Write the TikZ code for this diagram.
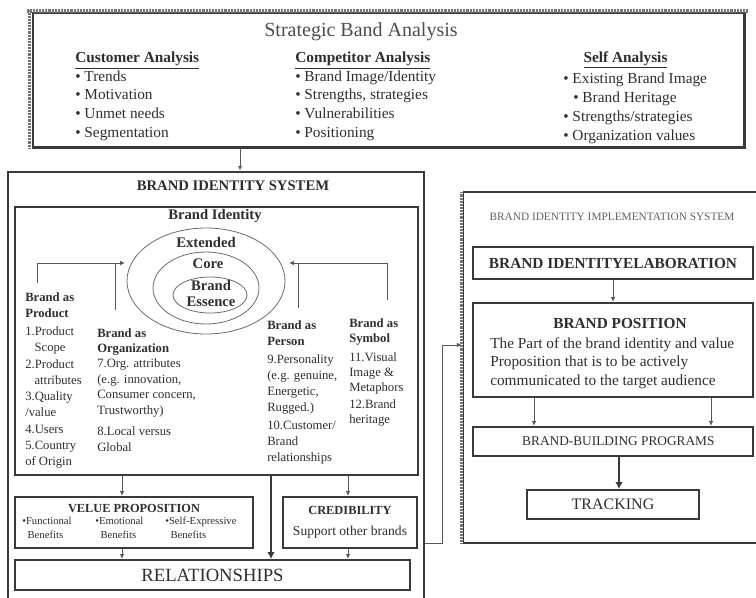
\documentclass[tikz,border=0pt]{standalone}
\usepackage{fontspec}
\setmainfont{Liberation Serif}
\usetikzlibrary{arrows.meta,shapes.geometric}
\definecolor{linec}{HTML}{3A3A3A}
\definecolor{txtc}{HTML}{2E2E2E}
\begin{document}
\begin{tikzpicture}[x=0.75pt,y=-0.75pt,
  box/.style={draw=linec, line width=1.7pt, inner sep=0pt},
  txt/.style={text=txtc, inner sep=0pt},
  col/.style={txt, anchor=north west, align=left},
  arr/.style={draw=linec!85, line width=0.7pt, -{Latex[length=3.6pt,width=3.4pt]}},
  bigarr/.style={draw=linec, line width=0.8pt, -{Latex[length=5pt,width=5.5pt]}},
  link/.style={draw=linec!85, line width=0.7pt},
  ring/.style={ellipse, draw=linec!75, line width=0.6pt, inner sep=0pt},
  hatchband/.style={draw=linec!70, line width=2.6pt, dash pattern=on 0.5pt off 0.6pt}]
\useasboundingbox (0,0) rectangle (756,597);
\clip (0,0) rectangle (756,597);

% ---------------- Strategic analysis panel ----------------
\node[box, line width=1.4pt, minimum width=533.25pt, minimum height=100.5pt] (sba) at (388.5,80) {};
\draw[linec, line width=2pt] (sba.north east) -- (sba.south east) -- (sba.south west);
\draw[hatchband] (27,11) -- (748,11);
\draw[hatchband] (29.5,10) -- (29.5,149);
\node[txt, font=\fontsize{15}{18}\selectfont, text=txtc!85] (sbatitle) at (361,32) {Strategic Band Analysis};
\node[col, font=\fontsize{11.5}{13.9}\selectfont] (cust) at (75,52)
  {\textbf{\underline{Customer Analysis}}\\• Trends\\• Motivation\\• Unmet needs\\• Segmentation};
\node[col, font=\fontsize{11.5}{13.9}\selectfont] (comp) at (295,52)
  {\textbf{\underline{Competitor Analysis}}\\• Brand Image/Identity\\• Strengths, strategies\\• Vulnerabilities\\• Positioning};
\node[txt, font=\bfseries\fontsize{11.5}{13.9}\selectfont] (selfh) at (625.5,60) {\underline{Self Analysis}};
\node[col, font=\fontsize{11.5}{14.25}\selectfont] (self) at (563,73)
  {• Existing Brand Image\\\hspace*{7.5pt}• Brand Heritage\\• Strengths/strategies\\• Organization values};

% ---------------- Brand identity system ----------------
\node[box, line width=2.1pt, minimum width=312pt, minimum height=336pt] (bis) at (216,396) {};
\node[txt, font=\bfseries\fontsize{11}{13}\selectfont] (bistitle) at (233,186) {BRAND IDENTITY SYSTEM};
\coordinate (arrA) at (240,0);
\draw[arr] (sba.south -| arrA) -- (bis.north -| arrA);

\node[box, line width=1.9pt, minimum width=302.25pt, minimum height=201pt] (bi) at (216.5,341) {};
\node[txt, font=\bfseries\fontsize{11}{13}\selectfont] (bititle) at (215,216) {Brand Identity};

% nested identity rings
\node[ring, minimum width=118.5pt, minimum height=79.5pt] (ext) at (206,281) {};
\node[ring, minimum width=79.5pt, minimum height=54pt] (core) at (206,288) {};
\node[ring, minimum width=55.5pt, minimum height=27pt] (ess) at (210,295) {};
\node[txt, font=\bfseries\fontsize{11}{13}\selectfont] (extl) at (206,242) {Extended};
\node[txt, font=\bfseries\fontsize{11}{13}\selectfont] (corel) at (208,264) {Core};
\node[txt, align=center, font=\bfseries\fontsize{11}{12}\selectfont] (essl) at (211,293) {Brand\\Essence};

% four perspectives
\node[col, font=\fontsize{9.5}{12.2}\selectfont] (prod) at (25,292)
  {\textbf{Brand as}\\\textbf{Product}\\[1.5pt]1.Product\\\hspace*{7pt}Scope\\2.Product\\\hspace*{7pt}attributes\\3.Quality\\/value\\4.Users\\5.Country\\of Origin};
\node[col, font=\fontsize{9.5}{11.6}\selectfont] (org) at (97,328)
  {\textbf{Brand as}\\\textbf{Organization}\\7.Org. attributes\\(e.g. innovation,\\Consumer concern,\\Trustworthy)\\[4.5pt]8.Local versus\\Global};
\node[col, font=\fontsize{9.5}{12}\selectfont] (pers) at (267,320)
  {\textbf{Brand as}\\\textbf{Person}\\[2pt]9.Personality\\(e.g. genuine,\\Energetic,\\Rugged.)\\[1.5pt]10.Customer/\\Brand\\relationships};
\node[col, font=\fontsize{9.5}{11.25}\selectfont] (symb) at (349,318)
  {\textbf{Brand as}\\\textbf{Symbol}\\[3pt]11.Visual\\Image \&\\Metaphors\\[2pt]12.Brand\\heritage};

% feeders into the rings
\coordinate (lbP) at (37,283);
\coordinate (lbO) at (115,310);
\coordinate (ljoin) at (37,263);
\coordinate (lhit) at (125,263);
\draw[arr] (lbP) -- (ljoin) -- (lhit);
\draw[link] (lbO) -- (lbO |- lhit);
\coordinate (rbS) at (387,300);
\coordinate (rbP) at (298,308);
\coordinate (rjoin) at (387,263);
\coordinate (rhit) at (289,263);
\draw[arr] (rbS) -- (rjoin) -- (rhit);
\draw[link] (rbP) -- (rbP |- rhit);

% value proposition and credibility
\node[box, minimum width=178.5pt, minimum height=38.25pt] (vp) at (134,522.5) {};
\node[txt, font=\bfseries\fontsize{9.25}{11}\selectfont] (vptitle) at (134,508) {VELUE PROPOSITION};
\node[col, font=\fontsize{8}{10.5}\selectfont] (vpf) at (22,517) {•Functional\\\hspace*{4pt}Benefits};
\node[col, font=\fontsize{8}{10.5}\selectfont] (vpe) at (95,517) {•Emotional\\\hspace*{4pt}Benefits};
\node[col, font=\fontsize{8}{10.5}\selectfont] (vps) at (165,517) {•Self-Expressive\\\hspace*{4pt}Benefits};

\node[box, minimum width=100.5pt, minimum height=38.25pt] (cred) at (350,522.5) {};
\node[txt, font=\bfseries\fontsize{9.3}{11}\selectfont] (credtitle) at (350,510) {CREDIBILITY};
\node[txt, font=\fontsize{10.2}{12}\selectfont] (credtext) at (350,532) {Support other brands};

\node[box, minimum width=296.25pt, minimum height=22.5pt, text=txtc, font=\fontsize{14}{16}\selectfont] (rel) at (212.5,575) {RELATIONSHIPS};

\coordinate (colA) at (122,0);
\coordinate (colB) at (348,0);
\coordinate (colC) at (271,0);
\draw[arr] (bi.south -| colA) -- (vp.north -| colA);
\draw[arr] (bi.south -| colB) -- (cred.north -| colB);
\draw[bigarr] (bi.south -| colC) -- (rel.north -| colC);
\draw[arr] (vp.south -| colA) -- (rel.north -| colA);
\draw[arr] (cred.south -| colB) -- (rel.north -| colB);

% ---------------- Implementation system ----------------
\node[box, line width=1.9pt, minimum width=230.25pt, minimum height=263.25pt] (impl) at (616.5,367.5) {};
\draw[draw=white, line width=2.2pt] (impl.north west) -- (impl.south west);
\draw[hatchband] ([yshift=-1pt]impl.north west) -- ([yshift=1pt]impl.south west);
\node[txt, text=txtc!75, font=\fontsize{8.5}{10}\selectfont] (impltitle) at (612,217) {BRAND IDENTITY IMPLEMENTATION SYSTEM};

\node[box, minimum width=210pt, minimum height=24pt, text=txtc, font=\bfseries\fontsize{11.5}{13}\selectfont] (elab) at (613,263) {BRAND IDENTITYELABORATION};

\node[box, minimum width=210pt, minimum height=70.5pt] (bp) at (613,350) {};
\node[txt, font=\bfseries\fontsize{11.5}{13}\selectfont] (bptitle) at (620,323) {BRAND POSITION};
\node[col, font=\fontsize{11.5}{13.9}\selectfont] (bptext) at (490,337)
  {The Part of the brand identity and value\\Proposition that is to be actively\\communicated to the target audience};

\node[box, minimum width=210pt, minimum height=21.75pt, text=txtc, font=\fontsize{10}{12}\selectfont] (bbp) at (613,441.5) {\hspace*{8pt}BRAND-BUILDING PROGRAMS};
\node[box, minimum width=129pt, minimum height=21.75pt, text=txtc, font=\fontsize{12}{14}\selectfont] (track) at (613,504.5) {TRACKING};

\coordinate (rA) at (534,0);
\coordinate (rB) at (711,0);
\coordinate (rC) at (619,0);
\draw[arr] (elab.south) -- (bp.north);
\draw[arr] (bp.south -| rA) -- (bbp.north -| rA);
\draw[arr] (bp.south -| rB) -- (bbp.north -| rB);
\draw[bigarr] (bbp.south -| rC) -- (track.north -| rC);

% link from the identity system to its implementation
\coordinate (lk1) at (442,543);
\coordinate (lk2) at (442,345);
\draw[arr] (bis.east |- lk1) -- (lk1) -- (lk2) -- (impl.west |- lk2);
\end{tikzpicture}
\end{document}
